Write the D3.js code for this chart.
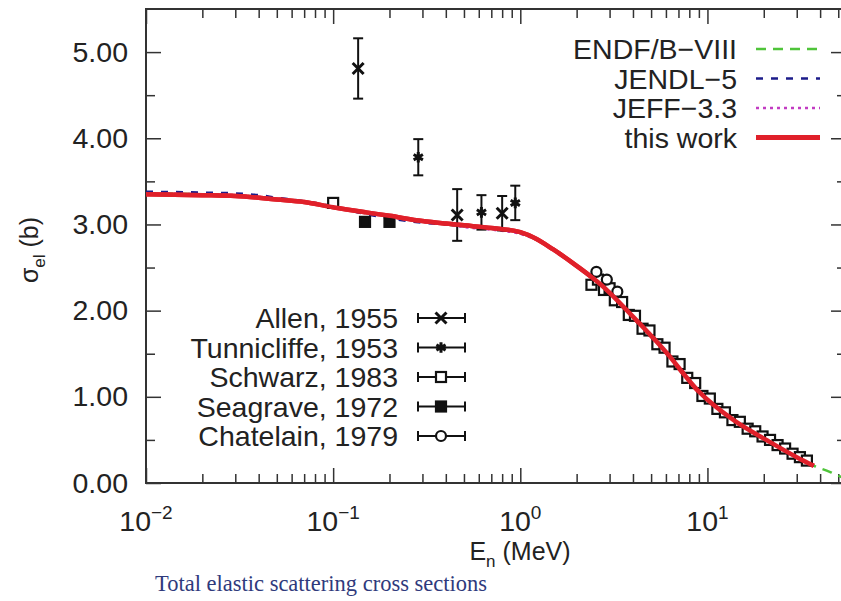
<!DOCTYPE html>
<html>
<head>
<meta charset="utf-8">
<script src="https://cdn.jsdelivr.net/npm/d3@7"></script>
<style>
  body { margin: 0; background: #fff; }
  svg text { font-family: "Liberation Sans", Arial, sans-serif; fill: #222; }
</style>
</head>
<body>
<svg id="chart" width="841" height="601"></svg>
<script>
// evaluated curves (energy in MeV, cross section in b)
var energy    = [0.01, 0.02, 0.03, 0.04, 0.05, 0.07, 0.1, 0.15, 0.2, 0.3, 0.4, 0.5, 0.7, 1.0, 1.2, 1.5, 2.0, 2.7, 4, 6, 9, 14, 21, 30, 37];
var thisWork  = [3.35, 3.34, 3.33, 3.31, 3.29, 3.26, 3.20, 3.14, 3.10, 3.04, 3.01, 2.99, 2.96, 2.91, 2.84, 2.71, 2.52, 2.30, 1.93, 1.52, 1.06, 0.72, 0.49, 0.30, 0.20];
var jendl     = [3.38, 3.37, 3.36, 3.34, 3.31, 3.27, 3.21, 3.12, 3.07, 3.02, 3.00, 2.98, 2.95, 2.90, 2.84, 2.71, 2.52, 2.30, 1.93, 1.52, 1.06, 0.72, 0.49, 0.30, 0.20];
var jeff      = [3.36, 3.35, 3.34, 3.32, 3.30, 3.26, 3.20, 3.13, 3.09, 3.03, 3.00, 2.97, 2.94, 2.89, 2.83, 2.71, 2.52, 2.30, 1.93, 1.52, 1.06, 0.72, 0.49, 0.30, 0.20];
var endfEnergy = [0.01, 0.02, 0.04, 0.07, 0.1, 0.2, 0.4, 0.7, 1.0, 1.5, 2.0, 2.7, 4, 6, 9, 14, 21, 30, 37, 45, 52, 56];
var endf       = [3.36, 3.35, 3.32, 3.26, 3.20, 3.09, 3.00, 2.95, 2.90, 2.71, 2.52, 2.30, 1.93, 1.52, 1.06, 0.72, 0.49, 0.30, 0.20, 0.13, 0.07, 0.05];

// experimental data [E, sigma, err]
var allen        = [[0.136, 4.81, 0.35], [0.46, 3.11, 0.30], [0.80, 3.13, 0.20]];
var tunnicliffe  = [[0.285, 3.78, 0.21], [0.62, 3.14, 0.20], [0.94, 3.25, 0.20]];
var schwarzE = [0.1, 2.4, 2.6, 2.8, 3.0, 3.2, 3.5, 3.8, 4.1, 4.5, 4.9, 5.4, 5.9, 6.5, 7.1, 7.8, 8.6, 9.4, 10.3, 11.3, 12.4, 13.6, 14.9, 16.4, 18.0, 19.7, 21.6, 23.7, 26.0, 28.5, 31.2, 34.0];
var schwarzS = [3.25, 2.30, 2.36, 2.24, 2.26, 2.12, 2.10, 1.95, 1.94, 1.79, 1.77, 1.61, 1.57, 1.41, 1.38, 1.22, 1.16, 1.01, 0.98, 0.86, 0.82, 0.73, 0.71, 0.63, 0.60, 0.54, 0.50, 0.44, 0.40, 0.34, 0.30, 0.26];
var seagrave   = [[0.148, 3.03], [0.2, 3.03]];
var chatelain  = [[2.55, 2.45], [2.9, 2.36], [3.3, 2.22]];

var yTicks = [0, 1, 2, 3, 4, 5];
var xDecades = [0.01, 0.1, 1, 10];
var xExponents = ["-2", "-1", "0", "1"];

var curveNames = ["ENDF/B\u2212VIII", "JENDL\u22125", "JEFF\u22123.3", "this work"];
var dataNames = ["Allen, 1955", "Tunnicliffe, 1953", "Schwarz, 1983", "Seagrave, 1972", "Chatelain, 1979"];

var svg = d3.select("#chart");
var mLeft = 146, mRight = 846, mTop = 9, mBottom = 483;

var x = d3.scaleLog().domain([0.01, 55]).range([mLeft, mRight]);
var y = d3.scaleLinear().domain([0, 5.5]).range([mBottom, mTop]);

//minor ticks for log axis
var xMinor = [];
xDecades.forEach(function (d) {
  for (var k = 2; k <= 9; k++) if (d * k <= 55) xMinor.push(d * k);
});
var yMinor = [0.5, 1.5, 2.5, 3.5, 4.5];

function noDomain(g) { g.select(".domain").remove(); g.selectAll("line").attr("stroke", "#333").attr("stroke-width", 1.5); }

svg.append("g").attr("transform", "translate(0," + mBottom + ")")
  .call(d3.axisBottom(x).tickValues(xDecades).tickSize(-15).tickFormat("")).call(noDomain);
svg.append("g").attr("transform", "translate(0," + mBottom + ")")
  .call(d3.axisBottom(x).tickValues(xMinor).tickSize(-9).tickFormat("")).call(noDomain);
svg.append("g").attr("transform", "translate(0," + mTop + ")")
  .call(d3.axisTop(x).tickValues(xDecades).tickSize(-15).tickFormat("")).call(noDomain);
svg.append("g").attr("transform", "translate(0," + mTop + ")")
  .call(d3.axisTop(x).tickValues(xMinor).tickSize(-9).tickFormat("")).call(noDomain);

var yAxis = svg.append("g").attr("transform", "translate(" + mLeft + ",0)")
  .call(d3.axisLeft(y).tickValues(yTicks).tickSize(-15).tickPadding(18).tickFormat(d3.format(".2f")));
yAxis.call(noDomain);
yAxis.selectAll("text").style("font-size", "28.5px").attr("fill", "#222");
svg.append("g").attr("transform", "translate(" + mLeft + ",0)")
  .call(d3.axisLeft(y).tickValues(yMinor).tickSize(-9).tickFormat("")).call(noDomain);
svg.append("g").attr("transform", "translate(" + mRight + ",0)")
  .call(d3.axisRight(y).tickValues(yTicks).tickSize(-15).tickFormat("")).call(noDomain);
svg.append("g").attr("transform", "translate(" + mRight + ",0)")
  .call(d3.axisRight(y).tickValues(yMinor).tickSize(-9).tickFormat("")).call(noDomain);

//frame
svg.append("rect").attr("x", mLeft).attr("y", mTop).attr("width", mRight - mLeft).attr("height", mBottom - mTop)
  .attr("fill", "none").attr("stroke", "#333").attr("stroke-width", 2);

//x tick labels with exponents
var xl = svg.selectAll(".xlab").data(xDecades).enter().append("text")
  .attr("class", "xlab")
  .attr("x", function (d) { return x(d); })
  .attr("y", 531)
  .attr("text-anchor", "middle")
  .style("font-size", "28.5px");
xl.append("tspan").text("10");
xl.append("tspan").attr("dy", -12).style("font-size", "19px").text(function (d, i) { return xExponents[i].replace("-", "\u2212"); });

//axis titles
var xt = svg.append("text").attr("x", 520).attr("y", 560).attr("text-anchor", "middle").style("font-size", "25px");
xt.append("tspan").text("E");
xt.append("tspan").attr("dy", 7).style("font-size", "17px").text("n");
xt.append("tspan").attr("dy", -7).text(" (MeV)");

var yt = svg.append("text").attr("transform", "translate(38,250) rotate(-90)").attr("text-anchor", "middle").style("font-size", "25px");
yt.append("tspan").text("\u03c3");
yt.append("tspan").attr("dy", 7).style("font-size", "17px").text("el");
yt.append("tspan").attr("dy", -7).text(" (b)");

svg.append("text").attr("x", 155).attr("y", 591)
  .style("font-family", "'Liberation Serif', 'DejaVu Serif', serif").style("font-size", "22.5px")
  .style("fill", "#2f3a7c")
  .text("Total elastic scattering cross sections");

//curves
var plot = svg.append("g");
plot.append("clipPath").attr("id", "clip").append("rect")
  .attr("x", mLeft).attr("y", mTop).attr("width", mRight - mLeft).attr("height", mBottom - mTop);
var line = d3.line().curve(d3.curveMonotoneX).x(function (d) { return x(d[0]); }).y(function (d) { return y(d[1]); });
var curves = plot.append("g").attr("clip-path", "url(#clip)");

var styles = [
  { color: "#4fc43a", width: 2.5, dash: "10,7" },
  { color: "#1c1c8a", width: 2.5, dash: "7,8" },
  { color: "#c23cc2", width: 2.5, dash: "3,4" },
  { color: "#e0202a", width: 4.5, dash: null }
];
var curveData = [d3.zip(endfEnergy, endf), d3.zip(energy, jendl), d3.zip(energy, jeff), d3.zip(energy, thisWork)];
curveData.forEach(function (c, i) {
  curves.append("path").datum(c).attr("d", line)
    .attr("fill", "none").attr("stroke", styles[i].color).attr("stroke-width", styles[i].width)
    .attr("stroke-dasharray", styles[i].dash);
});

//markers
var markers = plot.append("g");
function errBar(g, cx, y1, y2) {
  g.append("line").attr("x1", cx).attr("x2", cx).attr("y1", y1).attr("y2", y2).attr("stroke", "#111").attr("stroke-width", 2);
  [y1, y2].forEach(function (yy) {
    g.append("line").attr("x1", cx - 5).attr("x2", cx + 5).attr("y1", yy).attr("y2", yy).attr("stroke", "#111").attr("stroke-width", 2);
  });
}
function drawMarker(g, type, cx, cy) {
  if (type == "x" || type == "ast") {
    g.append("path").attr("transform", "translate(" + cx + "," + cy + ")")
      .attr("d", d3.symbol().type(type == "x" ? d3.symbolX : d3.symbolAsterisk).size(80)())
      .attr("fill", "none").attr("stroke", "#111").attr("stroke-width", 3);
  } else if (type == "sq" || type == "fsq") {
    g.append("rect").attr("x", cx - 5).attr("y", cy - 5).attr("width", 10).attr("height", 10)
      .attr("fill", type == "fsq" ? "#111" : "#fff").attr("stroke", "#111").attr("stroke-width", 2.2);
  } else {
    g.append("circle").attr("cx", cx).attr("cy", cy).attr("r", 5)
      .attr("fill", "#fff").attr("stroke", "#111").attr("stroke-width", 2.2);
  }
}

d3.zip(schwarzE, schwarzS).forEach(function (d) { drawMarker(markers, "sq", x(d[0]), y(d[1])); });
seagrave.forEach(function (d) { drawMarker(markers, "fsq", x(d[0]), y(d[1])); });
chatelain.forEach(function (d) { drawMarker(markers, "circ", x(d[0]), y(d[1])); });
allen.forEach(function (d) {
  errBar(markers, x(d[0]), y(d[1] + d[2]), y(d[1] - d[2]));
  drawMarker(markers, "x", x(d[0]), y(d[1]));
});
tunnicliffe.forEach(function (d) {
  errBar(markers, x(d[0]), y(d[1] + d[2]), y(d[1] - d[2]));
  drawMarker(markers, "ast", x(d[0]), y(d[1]));
});

//this work drawn again above the data points
plot.append("g").attr("clip-path", "url(#clip)").append("path").datum(curveData[3]).attr("d", line).attr("fill", "none")
  .attr("stroke", styles[3].color).attr("stroke-width", styles[3].width);

//legend for curves
var leg = svg.append("g");
curveNames.forEach(function (name, i) {
  var ry = 49 + i * 29.5;
  leg.append("text").attr("x", 737).attr("y", ry + 10).attr("text-anchor", "end").style("font-size", "28.5px").text(name);
  leg.append("line").attr("x1", 756).attr("x2", 820).attr("y1", ry).attr("y2", ry)
    .attr("stroke", styles[i].color).attr("stroke-width", i == 3 ? 5 : 2.5).attr("stroke-dasharray", styles[i].dash);
});

//legend for data
var types = ["x", "ast", "sq", "fsq", "circ"];
dataNames.forEach(function (name, i) {
  var ry = 318 + i * 29.5;
  leg.append("text").attr("x", 398).attr("y", ry + 10).attr("text-anchor", "end").style("font-size", "28.5px").text(name);
  leg.append("line").attr("x1", 418).attr("x2", 465).attr("y1", ry).attr("y2", ry).attr("stroke", "#111").attr("stroke-width", 2);
  [418, 465].forEach(function (xx) {
    leg.append("line").attr("x1", xx).attr("x2", xx).attr("y1", ry - 5).attr("y2", ry + 5).attr("stroke", "#111").attr("stroke-width", 2);
  });
  drawMarker(leg, types[i], 441, ry);
});
</script>
</body>
</html>
